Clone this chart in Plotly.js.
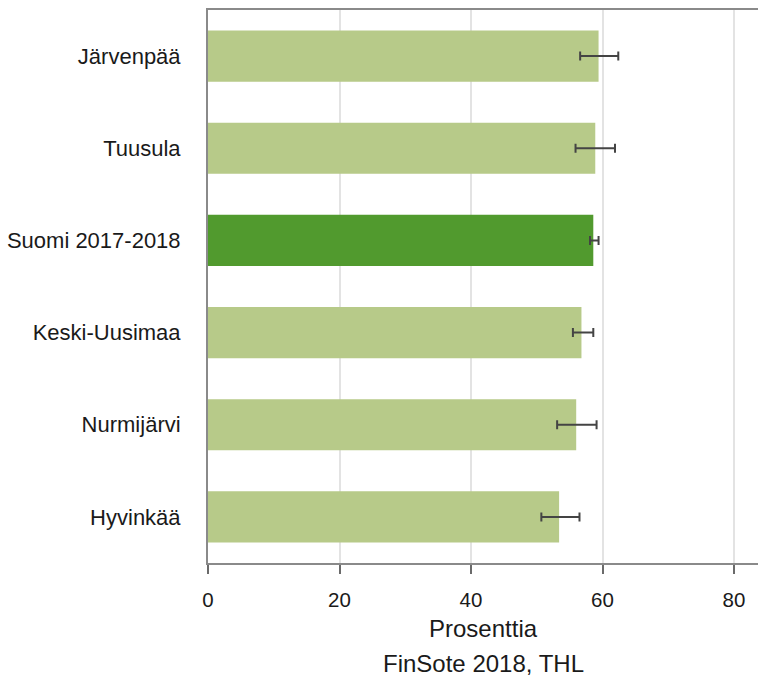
<!DOCTYPE html>
<html>
<head>
<meta charset="utf-8">
<script src="https://cdn.plot.ly/plotly-3.0.1.min.js"></script>
<style>html,body{margin:0;padding:0;background:#fff;}#chart{width:758px;height:676px;}</style>
</head>
<body>
<div id="chart"></div>
<script>
const categories = ["Järvenpää", "Tuusula", "Suomi 2017-2018", "Keski-Uusimaa", "Nurmijärvi", "Hyvinkää"];
const values = [59.4, 58.9, 58.6, 56.8, 56.0, 53.4];
const lower = [56.6, 55.9, 58.1, 55.5, 53.1, 50.7];
const upper = [62.4, 61.9, 59.4, 58.6, 59.1, 56.5];
const xTickValues = [0, 20, 40, 60, 80];
const highlight = "Suomi 2017-2018";

const colors = categories.map(c => c === highlight ? "#519a2e" : "#b7ca89");

const trace = {
  type: "bar",
  orientation: "h",
  y: categories,
  x: values,
  marker: { color: colors, line: { width: 0 } },
  error_x: {
    type: "data",
    symmetric: false,
    array: upper.map((u, i) => u - values[i]),
    arrayminus: values.map((v, i) => v - lower[i]),
    color: "#444",
    thickness: 2,
    width: 4.5
  },
  hoverinfo: "skip"
};

const layout = {
  width: 758,
  height: 676,
  margin: { l: 208, r: 0, t: 10, b: 113 },
  paper_bgcolor: "#fff",
  plot_bgcolor: "#fff",
  showlegend: false,
  bargap: 0.445,
  font: { family: "Liberation Sans, Arial, sans-serif", color: "#1a1a1a", size: 21 },
  xaxis: {
    range: [0, 83.65],
    tickvals: xTickValues,
    ticktext: xTickValues.map(String),
    showgrid: true,
    gridcolor: "#e3e3e3",
    gridwidth: 2,
    zeroline: false,
    showline: true,
    linecolor: "#8a8a8a",
    linewidth: 2,
    mirror: true,
    ticks: "outside",
    ticklen: 9,
    tickwidth: 2,
    tickcolor: "#6a6a6a",
    tickfont: { size: 20.5, color: "#1a1a1a" },
    ticklabelstandoff: 8,
    fixedrange: true
  },
  yaxis: {
    type: "category",
    categoryorder: "array",
    categoryarray: categories,
    autorange: "reversed",
    showgrid: false,
    zeroline: false,
    showline: true,
    linecolor: "#8a8a8a",
    linewidth: 2,
    ticks: "",
    tickfont: { size: 22, color: "#1a1a1a" },
    ticklabelstandoff: 21,
    fixedrange: true
  },
  annotations: [
    { text: "Prosenttia", xref: "paper", yref: "paper", x: 0.5, y: -0.118, xanchor: "center", yanchor: "middle", showarrow: false, font: { size: 24, color: "#1a1a1a" } },
    { text: "FinSote 2018, THL", xref: "paper", yref: "paper", x: 0.5, y: -0.181, xanchor: "center", yanchor: "middle", showarrow: false, font: { size: 24, color: "#1a1a1a" } }
  ]
};

Plotly.newPlot("chart", [trace], layout, { displayModeBar: false, staticPlot: true });
</script>
</body>
</html>
